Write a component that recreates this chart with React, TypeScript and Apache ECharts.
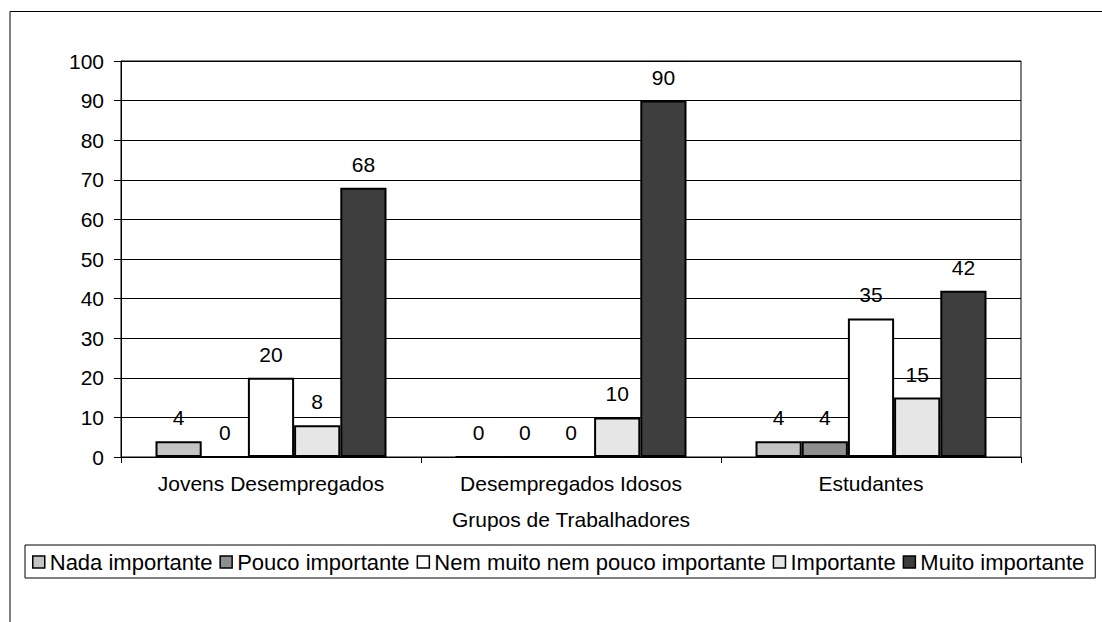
import React, { useEffect, useRef } from "react";
import * as echarts from "echarts";

const categories = ["Jovens Desempregados", "Desempregados Idosos", "Estudantes"];
const seriesNames = [
  "Nada importante",
  "Pouco importante",
  "Nem muito nem pouco importante",
  "Importante",
  "Muito importante",
];
const nadaImportante = [4, 0, 4];
const poucoImportante = [0, 0, 4];
const nemMuitoNemPouco = [20, 0, 35];
const importante = [8, 10, 15];
const muitoImportante = [68, 90, 42];
const yTicks = [0, 10, 20, 30, 40, 50, 60, 70, 80, 90, 100];
const xAxisTitle = "Grupos de Trabalhadores";

const seriesValues = [nadaImportante, poucoImportante, nemMuitoNemPouco, importante, muitoImportante];
const seriesColors = ["#c4c4c4", "#8e8e8e", "#ffffff", "#e6e6e6", "#3e3e3e"];

const FONT = "'Liberation Sans', Arial, sans-serif";
const FS = 21;

export default function App() {
  const ref = useRef<HTMLDivElement>(null);
  useEffect(() => {
    if (!ref.current) return;
    const chart = echarts.init(ref.current, null, { renderer: "svg" });
    chart.setOption({
      animation: false,
      backgroundColor: "#ffffff",
      textStyle: { fontFamily: FONT, color: "#000" },
      graphic: [
        {
          type: "polyline",
          shape: { points: [[10, 622], [10, 11.5], [1102, 11.5]] },
          style: { stroke: "#000", lineWidth: 1, fill: "none" },
          silent: true,
        },
      ],
      grid: {
        left: 121,
        right: 81,
        top: 61,
        bottom: 165,
        show: true,
        borderColor: "#000",
        borderWidth: 1,
        backgroundColor: "transparent",
      },
      legend: {
        data: seriesNames,
        left: 25,
        top: 545,
        orient: "horizontal",
        itemWidth: 12,
        itemHeight: 12,
        itemGap: 7,
        borderColor: "#000",
        borderWidth: 1,
        padding: [6, 11, 5, 7],
        textStyle: { fontFamily: FONT, fontSize: 22, color: "#000" },
        itemStyle: { borderColor: "#000", borderWidth: 1.5 },
        icon: "rect",
      },
      xAxis: {
        type: "category",
        data: categories,
        name: xAxisTitle,
        nameLocation: "middle",
        nameGap: 52,
        nameTextStyle: { fontFamily: FONT, fontSize: FS, color: "#000" },
        axisLine: { lineStyle: { color: "#000", width: 1 } },
        axisTick: { show: true, alignWithLabel: false, length: 6, lineStyle: { color: "#000" } },
        axisLabel: { fontFamily: FONT, fontSize: FS, color: "#000", margin: 16 },
      },
      yAxis: {
        type: "value",
        min: yTicks[0],
        max: yTicks[yTicks.length - 1],
        interval: 10,
        axisLine: { show: true, lineStyle: { color: "#000", width: 1 } },
        axisTick: { show: true, length: 7, lineStyle: { color: "#000" } },
        axisLabel: { fontFamily: FONT, fontSize: FS, color: "#000", margin: 17 },
        splitLine: { show: true, lineStyle: { color: "#000", width: 1 } },
      },
      series: seriesNames.map((name, i) => ({
        name,
        type: "bar",
        data: seriesValues[i],
        barGap: "0%",
        barCategoryGap: "23%",
        itemStyle: { color: seriesColors[i], borderColor: "#000", borderWidth: 2 },
        label: {
          show: true,
          position: "top",
          distance: 13,
          fontFamily: FONT,
          fontSize: FS,
          color: "#000",
        },
      })),
    });
    return () => chart.dispose();
  }, []);
  return (
    <div
      ref={ref}
      style={{ position: "fixed", left: 0, top: 0, width: 1102, height: 622, background: "#fff" }}
    />
  );
}
